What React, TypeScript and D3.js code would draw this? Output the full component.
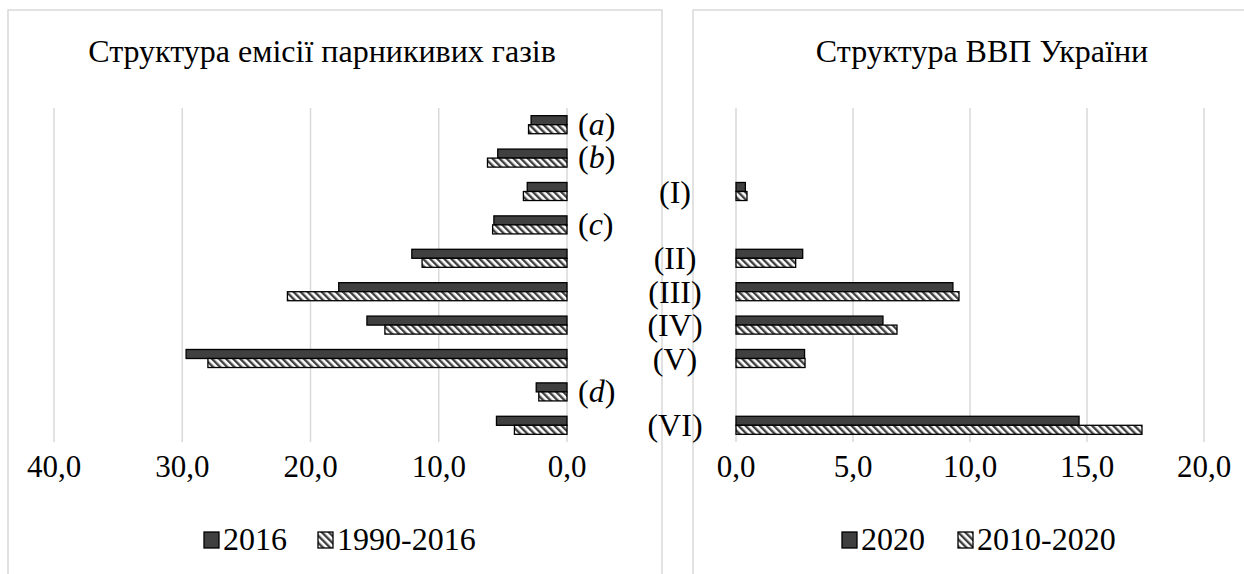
import { scaleBand, scaleLinear } from "d3";
import React from "react";

const rows = ["(a)", "(b)", "(I)", "(c)", "(II)", "(III)", "(IV)", "(V)", "(d)", "(VI)"];
const emis2016 = [2.8, 5.4, 3.1, 5.7, 12.1, 17.8, 15.6, 29.7, 2.4, 5.5];
const emis1990 = [3.0, 6.2, 3.4, 5.8, 11.3, 21.8, 14.2, 28.0, 2.2, 4.1];
const gdp2020 = [null, null, 0.4, null, 2.85, 9.27, 6.28, 2.93, null, 14.66];
const gdp2010 = [null, null, 0.47, null, 2.55, 9.53, 6.88, 2.95, null, 17.35];
const leftTicks = [40, 30, 20, 10, 0];
const rightTicks = [0, 5, 10, 15, 20];
const leftLegend = ["2016", "1990-2016"];
const rightLegend = ["2020", "2010-2020"];
const titles = ["Структура емісії парникивих газів", "Структура ВВП України"];

const W = 1244;
const H = 574;
const FONT = '"Liberation Serif", "Times New Roman", Times, "DejaVu Serif", serif';
const DARK = "#404040";
const GRID = "#d9d9d9";
const plotTop = 108;
const plotBottom = 442;

const yScale = scaleBand<string>()
  .domain(rows)
  .range([plotTop, plotBottom])
  .paddingInner(0.46)
  .paddingOuter(0.23);
const sub = scaleBand<number>().domain([0, 1]).range([0, yScale.bandwidth()]);

const xLeft = scaleLinear().domain([0, 40]).range([567, 54]);
const xRight = scaleLinear().domain([0, 20]).range([736, 1204]);

const fmt = (v: number) => v.toFixed(1).replace(".", ",");
const isLetter = (s: string) => /^\([a-z]\)$/.test(s);

function Legend({ labels, x }: { labels: string[]; x: number[] }) {
  const y = 550;
  return (
    <g>
      {labels.map((l, i) => (
        <g key={l}>
          <rect
            x={x[i]}
            y={y - 18}
            width={15}
            height={16}
            fill={i === 0 ? DARK : "url(#hatch)"}
            stroke="#000"
            strokeWidth={1.3}
          />
          <text x={x[i] + 19} y={y}>
            {l}
          </text>
        </g>
      ))}
    </g>
  );
}

export default function App() {
  const cy = (r: string) => (yScale(r) as number) + yScale.bandwidth() / 2;
  return (
    <svg
      width={W}
      height={H}
      viewBox={`0 0 ${W} ${H}`}
      style={{ position: "absolute", left: 0, top: 0, background: "#fff", fontFamily: FONT, fontSize: 32 }}
    >
      <defs>
        <pattern id="hatch" width={5} height={5} patternUnits="userSpaceOnUse" patternTransform="rotate(-45)">
          <rect width={5} height={5} fill="#fff" />
          <rect width={2.4} height={5} fill={DARK} />
        </pattern>
      </defs>
      {/* panel borders */}
      <rect x={8} y={10} width={654} height={600} fill="none" stroke={GRID} strokeWidth={1.5} />
      <rect x={693} y={10} width={600} height={600} fill="none" stroke={GRID} strokeWidth={1.5} />

      {/* titles */}
      <text x={322} y={62} textAnchor="middle">
        {titles[0]}
      </text>
      <text x={982} y={62} textAnchor="middle">
        {titles[1]}
      </text>

      {/* gridlines */}
      {leftTicks.map((t) => (
        <line key={"gl" + t} x1={xLeft(t)} x2={xLeft(t)} y1={plotTop} y2={plotBottom} stroke={GRID} strokeWidth={1.5} />
      ))}
      {rightTicks.map((t) => (
        <line key={"gr" + t} x1={xRight(t)} x2={xRight(t)} y1={plotTop} y2={plotBottom} stroke={GRID} strokeWidth={1.5} />
      ))}

      {/* left bars */}
      {rows.map((r, i) => {
        const y0 = yScale(r) as number;
        return (
          <g key={"lb" + r}>
            <rect
              x={xLeft(emis2016[i])}
              y={y0 + (sub(0) as number)}
              width={xLeft(0) - xLeft(emis2016[i])}
              height={sub.bandwidth()}
              fill={DARK}
              stroke="#000"
              strokeWidth={1.3}
            />
            <rect
              x={xLeft(emis1990[i])}
              y={y0 + (sub(1) as number)}
              width={xLeft(0) - xLeft(emis1990[i])}
              height={sub.bandwidth()}
              fill="url(#hatch)"
              stroke="#000"
              strokeWidth={1.3}
            />
          </g>
        );
      })}

      {/* right bars */}
      {rows.map((r, i) => {
        const a = gdp2020[i];
        const b = gdp2010[i];
        if (a == null || b == null) return null;
        const y0 = yScale(r) as number;
        return (
          <g key={"rb" + r}>
            <rect
              x={xRight(0)}
              y={y0 + (sub(0) as number)}
              width={xRight(a) - xRight(0)}
              height={sub.bandwidth()}
              fill={DARK}
              stroke="#000"
              strokeWidth={1.3}
            />
            <rect
              x={xRight(0)}
              y={y0 + (sub(1) as number)}
              width={xRight(b) - xRight(0)}
              height={sub.bandwidth()}
              fill="url(#hatch)"
              stroke="#000"
              strokeWidth={1.3}
            />
          </g>
        );
      })}

      {/* category labels */}
      {rows.map((r) =>
        isLetter(r) ? (
          <text key={"c" + r} x={578} y={cy(r) + 10}>
            (<tspan fontStyle="italic">{r.slice(1, -1)}</tspan>)
          </text>
        ) : (
          <text key={"c" + r} x={675} y={cy(r) + 11} textAnchor="middle">
            {r}
          </text>
        )
      )}

      {/* tick labels */}
      {leftTicks.map((t) => (
        <text key={"tl" + t} x={xLeft(t)} y={477} textAnchor="middle" fontSize={31}>
          {fmt(t)}
        </text>
      ))}
      {rightTicks.map((t) => (
        <text key={"tr" + t} x={xRight(t)} y={477} textAnchor="middle" fontSize={31}>
          {fmt(t)}
        </text>
      ))}

      <Legend labels={leftLegend} x={[204, 318]} />
      <Legend labels={rightLegend} x={[842, 958]} />
    </svg>
  );
}
